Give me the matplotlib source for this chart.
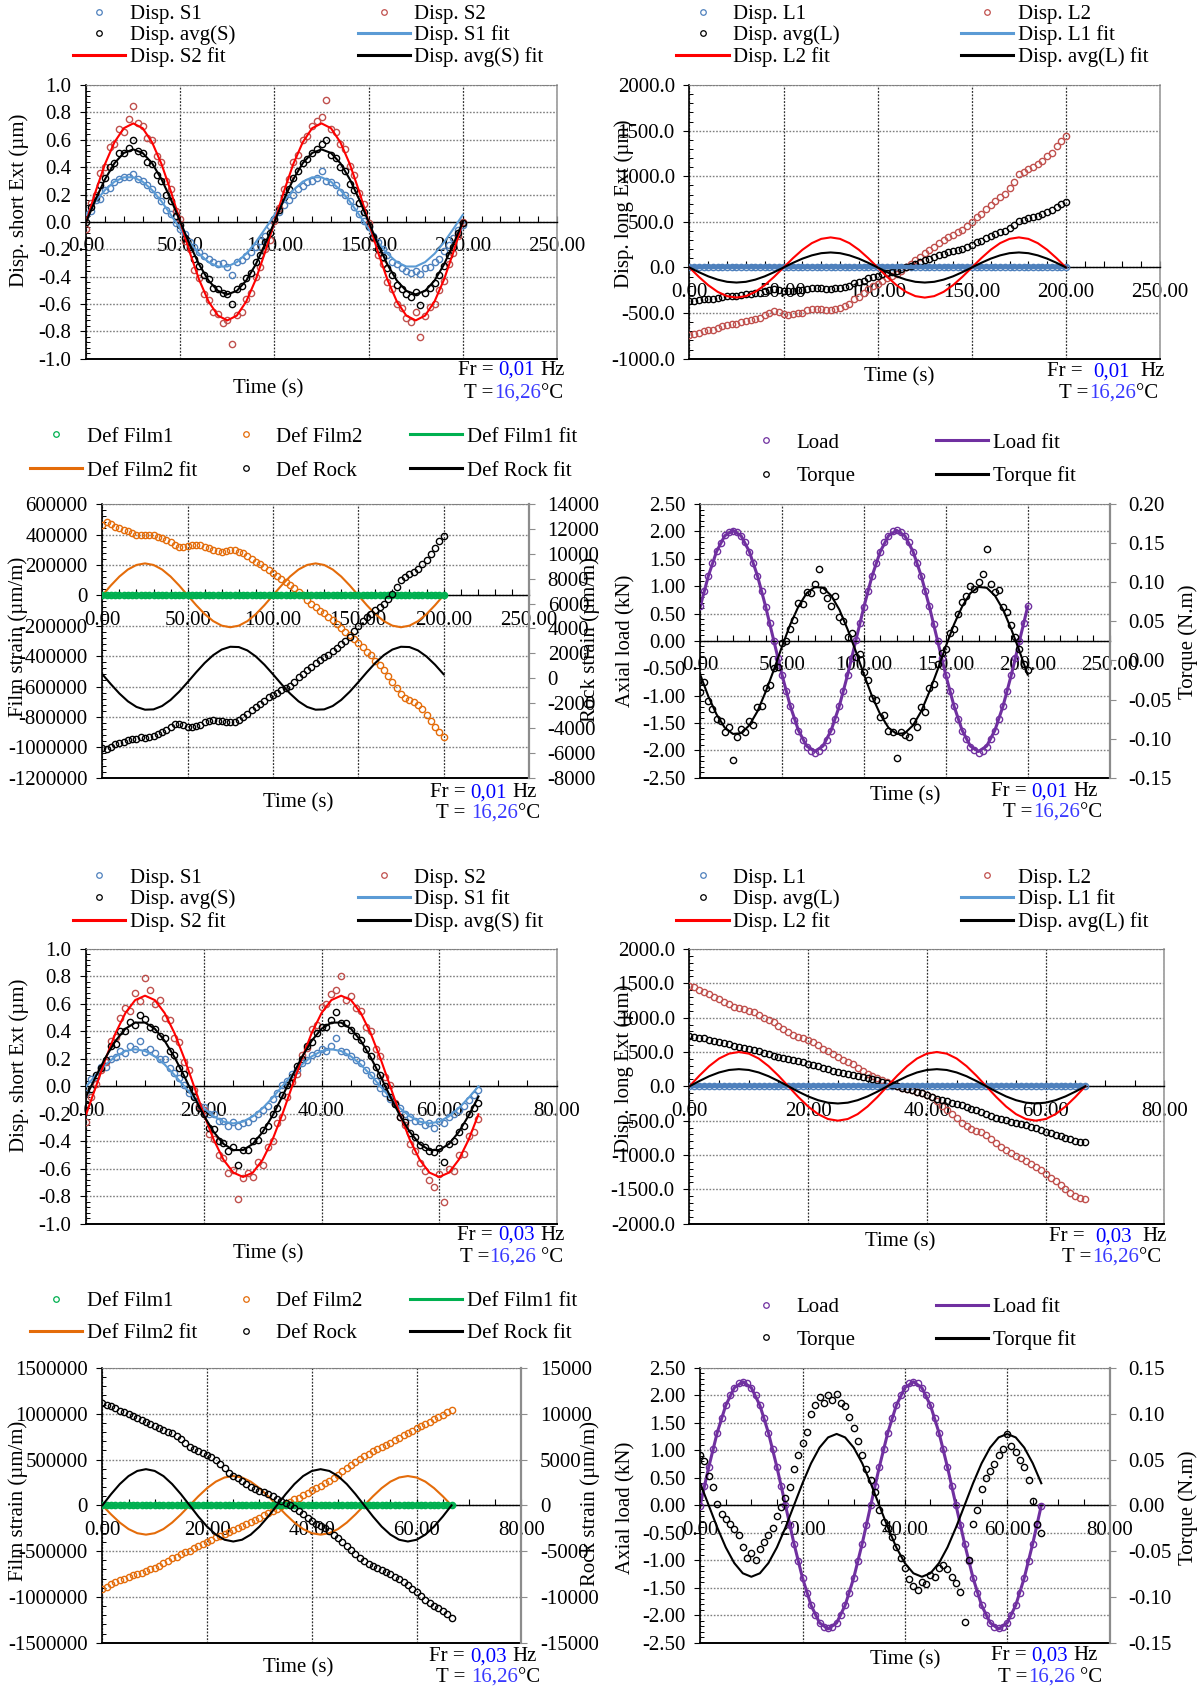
import numpy as np
import matplotlib
matplotlib.use('Agg')
import matplotlib.pyplot as plt
from matplotlib.lines import Line2D
from matplotlib.ticker import MultipleLocator, AutoMinorLocator, FormatStrFormatter

plt.rcParams['font.family'] = ['Liberation Serif', 'DejaVu Serif']
plt.rcParams['font.size'] = 15
plt.rcParams['axes.unicode_minus'] = False

FS = 15

# ---------------- time grids ----------------
t_slow = [0, 2.5, 5, 7.5, 10, 12.5, 15, 17.5, 20, 22.5,
          25, 27.5, 30, 32.5, 35, 37.5, 40, 42.5, 45, 47.5,
          50, 52.5, 55, 57.5, 60, 62.5, 65, 67.5, 70, 72.5,
          75, 77.5, 80, 82.5, 85, 87.5, 90, 92.5, 95, 97.5,
          100, 102.5, 105, 107.5, 110, 112.5, 115, 117.5, 120, 122.5,
          125, 127.5, 130, 132.5, 135, 137.5, 140, 142.5, 145, 147.5,
          150, 152.5, 155, 157.5, 160, 162.5, 165, 167.5, 170, 172.5,
          175, 177.5, 180, 182.5, 185, 187.5, 190, 192.5, 195, 197.5,
          200]
t_slow_fit = [0, 5, 10, 15, 20, 25, 30, 35, 40, 45, 50, 55, 60, 65, 70, 75, 80, 85, 90, 95,
              100, 105, 110, 115, 120, 125, 130, 135, 140, 145, 150, 155, 160, 165, 170, 175,
              180, 185, 190, 195, 200]
t_fast = [0, 0.83, 1.67, 2.5, 3.33, 4.17, 5, 5.83, 6.67, 7.5,
          8.33, 9.17, 10, 10.83, 11.67, 12.5, 13.33, 14.17, 15, 15.83,
          16.67, 17.5, 18.33, 19.17, 20, 20.83, 21.67, 22.5, 23.33, 24.17,
          25, 25.83, 26.67, 27.5, 28.33, 29.17, 30, 30.83, 31.67, 32.5,
          33.33, 34.17, 35, 35.83, 36.67, 37.5, 38.33, 39.17, 40, 40.83,
          41.67, 42.5, 43.33, 44.17, 45, 45.83, 46.67, 47.5, 48.33, 49.17,
          50, 50.83, 51.67, 52.5, 53.33, 54.17, 55, 55.83, 56.67, 57.5,
          58.33, 59.17, 60, 60.83, 61.67, 62.5, 63.33, 64.17, 65, 65.83,
          66.67]
t_fast_fit = [0, 1.67, 3.33, 5, 6.67, 8.33, 10, 11.67, 13.33, 15, 16.67, 18.33, 20, 21.67,
              23.33, 25, 26.67, 28.33, 30, 31.67, 33.33, 35, 36.67, 38.33, 40, 41.67, 43.33,
              45, 46.67, 48.33, 50, 51.67, 53.33, 55, 56.67, 58.33, 60, 61.67, 63.33, 65, 66.67]

# ---------------- 0.01 Hz : short extensometers ----------------
s1_slow = [0.05, 0.08, 0.16, 0.17, 0.23, 0.25, 0.29, 0.31, 0.33, 0.33,
           0.35, 0.31, 0.30, 0.27, 0.24, 0.20, 0.15, 0.09, 0.06, -0.01,
           -0.05, -0.09, -0.15, -0.18, -0.22, -0.25, -0.27, -0.29, -0.31, -0.30,
           -0.33, -0.39, -0.29, -0.28, -0.25, -0.22, -0.18, -0.14, -0.10, -0.03,
           0.02, 0.07, 0.12, 0.16, 0.20, 0.24, 0.26, 0.29, 0.30, 0.32,
           0.37, 0.30, 0.29, 0.27, 0.22, 0.20, 0.15, 0.11, 0.06, 0.01,
           -0.04, -0.10, -0.15, -0.20, -0.24, -0.29, -0.31, -0.34, -0.36, -0.37,
           -0.36, -0.38, -0.34, -0.33, -0.29, -0.27, -0.21, -0.17, -0.12, -0.06,
           -0.02]
s2_slow = [-0.05, 0.14, 0.20, 0.36, 0.40, 0.55, 0.57, 0.68, 0.66, 0.75,
           0.85, 0.72, 0.70, 0.61, 0.60, 0.48, 0.44, 0.30, 0.24, 0.08,
           0.02, -0.14, -0.20, -0.35, -0.41, -0.53, -0.57, -0.66, -0.67, -0.74,
           -0.72, -0.89, -0.68, -0.66, -0.56, -0.52, -0.40, -0.33, -0.20, -0.13,
           0.01, 0.10, 0.24, 0.31, 0.44, 0.49, 0.60, 0.63, 0.70, 0.74,
           0.77, 0.89, 0.68, 0.66, 0.57, 0.53, 0.41, 0.34, 0.21, 0.13,
           -0.01, -0.12, -0.24, -0.31, -0.44, -0.49, -0.60, -0.63, -0.70, -0.73,
           -0.66, -0.84, -0.69, -0.62, -0.60, -0.50, -0.43, -0.31, -0.23, -0.10,
           0.00]
avgs_slow = [0.00, 0.11, 0.18, 0.27, 0.32, 0.40, 0.43, 0.50, 0.50, 0.54,
             0.60, 0.52, 0.50, 0.44, 0.42, 0.34, 0.30, 0.20, 0.15, 0.04,
             -0.02, -0.12, -0.18, -0.27, -0.32, -0.39, -0.42, -0.48, -0.49, -0.52,
             -0.53, -0.60, -0.49, -0.47, -0.41, -0.37, -0.29, -0.24, -0.15, -0.08,
             0.02, 0.09, 0.18, 0.24, 0.32, 0.37, 0.43, 0.46, 0.50, 0.53,
             0.57, 0.60, 0.49, 0.47, 0.40, 0.37, 0.28, 0.23, 0.14, 0.07,
             -0.03, -0.11, -0.20, -0.26, -0.34, -0.39, -0.46, -0.49, -0.53, -0.55,
             -0.51, -0.61, -0.52, -0.48, -0.45, -0.39, -0.32, -0.24, -0.18, -0.08,
             -0.01]
s1_slow_fit = [0.051, 0.150, 0.233, 0.294, 0.326, 0.326, 0.294, 0.233, 0.150, 0.051,
               -0.051, -0.150, -0.233, -0.294, -0.326, -0.326, -0.294, -0.233, -0.150, -0.051,
               0.051, 0.150, 0.233, 0.294, 0.326, 0.326, 0.294, 0.233, 0.150, 0.051,
               -0.051, -0.150, -0.233, -0.294, -0.326, -0.326, -0.294, -0.233, -0.150, -0.051,
               0.051]
s2_slow_fit = [0.0, 0.222, 0.423, 0.582, 0.685, 0.720, 0.685, 0.582, 0.423, 0.222,
               0.0, -0.222, -0.423, -0.582, -0.685, -0.720, -0.685, -0.582, -0.423, -0.222,
               0.0, 0.222, 0.423, 0.582, 0.685, 0.720, 0.685, 0.582, 0.423, 0.222,
               0.0, -0.222, -0.423, -0.582, -0.685, -0.720, -0.685, -0.582, -0.423, -0.222,
               0.0]
avgs_slow_fit = [0.0, 0.164, 0.312, 0.429, 0.504, 0.530, 0.504, 0.429, 0.312, 0.164,
                 0.0, -0.164, -0.312, -0.429, -0.504, -0.530, -0.504, -0.429, -0.312, -0.164,
                 0.0, 0.164, 0.312, 0.429, 0.504, 0.530, 0.504, 0.429, 0.312, 0.164,
                 0.0, -0.164, -0.312, -0.429, -0.504, -0.530, -0.504, -0.429, -0.312, -0.164,
                 0.0]

# ---------------- 0.01 Hz : long extensometers ----------------
l1_slow = [0, 0, 0, 0, 0, 0, 0, 0, 0, 0, 0, 0, 0, 0, 0, 0, 0, 0, 0, 0,
           0, 0, 0, 0, 0, 0, 0, 0, 0, 0, 0, 0, 0, 0, 0, 0, 0, 0, 0, 0,
           0, 0, 0, 0, 0, 0, 0, 0, 0, 0, 0, 0, 0, 0, 0, 0, 0, 0, 0, 0,
           0, 0, 0, 0, 0, 0, 0, 0, 0, 0, 0, 0, 0, 0, 0, 0, 0, 0, 0, 0, 0]
l2_slow = [-740, -730, -715, -700, -690, -680, -660, -640, -630, -615,
           -620, -600, -590, -575, -565, -550, -520, -495, -480, -490,
           -510, -520, -505, -500, -500, -470, -460, -455, -460, -465,
           -465, -460, -440, -425, -400, -350, -320, -285, -240, -205,
           -180, -145, -115, -95, -70, -40, 0, 40, 80, 120,
           155, 190, 225, 265, 300, 330, 360, 385, 415, 460,
           500, 550, 590, 640, 680, 730, 775, 810, 870, 940,
           1030, 1050, 1080, 1105, 1130, 1170, 1220, 1260, 1330, 1390,
           1440]
avgl_slow = [-370, -365, -358, -350, -345, -340, -330, -320, -315, -308,
             -310, -300, -295, -288, -283, -275, -260, -248, -240, -245,
             -255, -260, -253, -250, -250, -235, -230, -228, -230, -233,
             -233, -230, -220, -213, -200, -175, -160, -143, -120, -103,
             -90, -73, -58, -48, -35, -20, 0, 20, 40, 60,
             78, 95, 113, 133, 150, 165, 180, 193, 208, 230,
             250, 275, 295, 320, 340, 365, 388, 405, 435, 470,
             515, 525, 540, 553, 565, 585, 610, 630, 665, 695,
             720]
l1_slow_fit = [0, 0, 0, 0, 0, 0, 0, 0, 0, 0, 0, 0, 0, 0, 0, 0, 0, 0, 0, 0,
               0, 0, 0, 0, 0, 0, 0, 0, 0, 0, 0, 0, 0, 0, 0, 0, 0, 0, 0, 0, 0]
l2_slow_fit = [0, -102, -194, -267, -314, -330, -314, -267, -194, -102,
               0, 102, 194, 267, 314, 330, 314, 267, 194, 102,
               0, -102, -194, -267, -314, -330, -314, -267, -194, -102,
               0, 102, 194, 267, 314, 330, 314, 267, 194, 102,
               0]
avgl_slow_fit = [0, -51, -97, -133, -157, -165, -157, -133, -97, -51,
                 0, 51, 97, 133, 157, 165, 157, 133, 97, 51,
                 0, -51, -97, -133, -157, -165, -157, -133, -97, -51,
                 0, 51, 97, 133, 157, 165, 157, 133, 97, 51,
                 0]

# ---------------- 0.01 Hz : films / rock ----------------
film1_slow = [0, 0, 0, 0, 0, 0, 0, 0, 0, 0, 0, 0, 0, 0, 0, 0, 0, 0, 0, 0,
              0, 0, 0, 0, 0, 0, 0, 0, 0, 0, 0, 0, 0, 0, 0, 0, 0, 0, 0, 0,
              0, 0, 0, 0, 0, 0, 0, 0, 0, 0, 0, 0, 0, 0, 0, 0, 0, 0, 0, 0,
              0, 0, 0, 0, 0, 0, 0, 0, 0, 0, 0, 0, 0, 0, 0, 0, 0, 0, 0, 0, 0]
film2_slow = [465000, 480000, 470000, 452000, 440000, 430000, 420000, 408000, 400000, 395000,
              400000, 398000, 397000, 385000, 375000, 365000, 350000, 331000, 320000, 318000,
              325000, 330000, 331000, 328000, 315000, 309000, 300000, 293000, 288000, 292000,
              298000, 295000, 285000, 276000, 260000, 240000, 222000, 205000, 185000, 167000,
              150000, 128000, 110000, 88000, 68000, 45000, 20000, 2000, -30000, -55000,
              -75000, -100000, -119000, -142000, -165000, -190000, -215000, -240000, -262000, -290000,
              -316000, -340000, -370000, -395000, -430000, -460000, -490000, -530000, -569000, -610000,
              -650000, -675000, -690000, -705000, -720000, -750000, -790000, -830000, -865000, -900000,
              -930000]
rock_slow = [-5600, -5700, -5500, -5300, -5200, -5100, -4950, -4900, -4850, -4750,
             -4800, -4700, -4620, -4450, -4300, -4150, -3900, -3700, -3650, -3800,
             -3950, -3950, -3850, -3750, -3550, -3400, -3380, -3400, -3450, -3480,
             -3520, -3500, -3350, -3150, -2850, -2550, -2340, -2050, -1800, -1530,
             -1350, -1150, -950, -760, -590, -300, 100, 350, 650, 900,
             1200, 1450, 1690, 1900, 2150, 2400, 2750, 3000, 3350, 3800,
             4200, 4600, 4900, 5200, 5500, 5700, 5950, 6350, 6750, 7300,
             7900, 8150, 8350, 8550, 8750, 9150, 9500, 10000, 10500, 11000,
             11400]
film1_slow_fit = [0, 0, 0, 0, 0, 0, 0, 0, 0, 0, 0, 0, 0, 0, 0, 0, 0, 0, 0, 0,
                  0, 0, 0, 0, 0, 0, 0, 0, 0, 0, 0, 0, 0, 0, 0, 0, 0, 0, 0, 0, 0]
film2_slow_fit = [0, 64900, 123500, 169900, 199700, 210000, 199700, 169900, 123500, 64900,
                  0, -64900, -123500, -169900, -199700, -210000, -199700, -169900, -123500, -64900,
                  0, 64900, 123500, 169900, 199700, 210000, 199700, 169900, 123500, 64900,
                  0, -64900, -123500, -169900, -199700, -210000, -199700, -169900, -123500, -64900,
                  0]
rock_slow_fit = [320, -478, -1229, -1859, -2307, -2530, -2505, -2235, -1745, -1086,
                 -320, 478, 1229, 1859, 2307, 2530, 2505, 2235, 1745, 1086,
                 320, -478, -1229, -1859, -2307, -2530, -2505, -2235, -1745, -1086,
                 -320, 478, 1229, 1859, 2307, 2530, 2505, 2235, 1745, 1086,
                 320]

# ---------------- 0.01 Hz : load / torque ----------------
load_slow = [0.63, 0.91, 1.19, 1.43, 1.64, 1.79, 1.93, 1.99, 2.01, 1.99,
             1.92, 1.80, 1.63, 1.43, 1.18, 0.92, 0.62, 0.32, 0.00, -0.32,
             -0.63, -0.92, -1.19, -1.44, -1.64, -1.81, -1.93, -2.01, -2.04, -2.01,
             -1.93, -1.81, -1.64, -1.43, -1.19, -0.91, -0.62, -0.31, 0.01, 0.32,
             0.62, 0.92, 1.19, 1.43, 1.63, 1.80, 1.92, 2.00, 2.02, 1.99,
             1.92, 1.80, 1.63, 1.42, 1.18, 0.92, 0.63, 0.31, -0.01, -0.32,
             -0.62, -0.92, -1.19, -1.43, -1.64, -1.80, -1.93, -2.00, -2.04, -2.01,
             -1.93, -1.80, -1.64, -1.43, -1.19, -0.92, -0.63, -0.31, 0.00, 0.32,
             0.64]
torque_slow = [-0.040, -0.028, -0.052, -0.062, -0.075, -0.078, -0.092, -0.085, -0.127, -0.098,
               -0.088, -0.092, -0.078, -0.082, -0.060, -0.058, -0.035, -0.032, -0.010, -0.008,
               0.022, 0.025, 0.040, 0.052, 0.073, 0.072, 0.088, 0.086, 0.098, 0.117,
               0.090, 0.080, 0.070, 0.082, 0.055, 0.050, 0.030, 0.035, 0.005, 0.008,
               -0.015, -0.025, -0.048, -0.050, -0.072, -0.070, -0.090, -0.092, -0.125, -0.092,
               -0.095, -0.098, -0.078, -0.085, -0.060, -0.066, -0.035, -0.030, -0.005, 0.010,
               0.015, 0.035, 0.040, 0.060, 0.075, 0.082, 0.095, 0.092, 0.100, 0.110,
               0.143, 0.098, 0.088, 0.090, 0.068, 0.062, 0.045, 0.030, 0.015, -0.005,
               -0.012]
load_slow_fit = [0.624, 1.188, 1.634, 1.921, 2.020, 1.921, 1.634, 1.188, 0.624, 0.0,
                 -0.624, -1.188, -1.634, -1.921, -2.020, -1.921, -1.634, -1.188, -0.624, 0.0,
                 0.624, 1.188, 1.634, 1.921, 2.020, 1.921, 1.634, 1.188, 0.624, 0.0,
                 -0.624, -1.188, -1.634, -1.921, -2.020, -1.921, -1.634, -1.188, -0.624, 0.0,
                 0.624]
torque_slow_fit = [-0.018, -0.046, -0.069, -0.086, -0.094, -0.093, -0.083, -0.065, -0.040, -0.012,
                   0.018, 0.046, 0.069, 0.086, 0.094, 0.093, 0.083, 0.065, 0.040, 0.012,
                   -0.018, -0.046, -0.069, -0.086, -0.094, -0.093, -0.083, -0.065, -0.040, -0.012,
                   0.018, 0.046, 0.069, 0.086, 0.094, 0.093, 0.083, 0.065, 0.040, 0.012,
                   -0.018]

# ---------------- 0.03 Hz : short extensometers ----------------
s1_fast = [-0.05, 0.05, 0.07, 0.14, 0.14, 0.20, 0.21, 0.26, 0.24, 0.29,
           0.27, 0.33, 0.25, 0.27, 0.24, 0.20, 0.20, 0.13, 0.10, 0.06,
           0.01, -0.05, -0.07, -0.14, -0.15, -0.20, -0.20, -0.25, -0.25, -0.29,
           -0.26, -0.29, -0.27, -0.26, -0.23, -0.20, -0.17, -0.14, -0.09, -0.05,
           0.01, 0.04, 0.09, 0.12, 0.17, 0.19, 0.23, 0.24, 0.27, 0.26,
           0.29, 0.35, 0.26, 0.25, 0.22, 0.19, 0.17, 0.12, 0.08, 0.04,
           -0.01, -0.05, -0.09, -0.13, -0.16, -0.20, -0.22, -0.25, -0.25, -0.28,
           -0.27, -0.30, -0.25, -0.27, -0.22, -0.20, -0.17, -0.14, -0.10, -0.06,
           -0.03]
s2_fast = [-0.26, -0.08, 0.02, 0.12, 0.18, 0.33, 0.36, 0.50, 0.57, 0.55,
           0.68, 0.62, 0.79, 0.70, 0.60, 0.63, 0.50, 0.48, 0.35, 0.32,
           0.18, 0.12, -0.03, -0.14, -0.17, -0.35, -0.38, -0.50, -0.52, -0.63,
           -0.61, -0.82, -0.67, -0.63, -0.66, -0.55, -0.57, -0.44, -0.40, -0.27,
           -0.22, -0.08, 0.03, 0.09, 0.23, 0.28, 0.42, 0.45, 0.58, 0.60,
           0.67, 0.70, 0.80, 0.63, 0.66, 0.57, 0.55, 0.43, 0.40, 0.27,
           0.22, 0.07, 0.01, -0.12, -0.22, -0.28, -0.42, -0.47, -0.56, -0.62,
           -0.68, -0.73, -0.64, -0.84, -0.60, -0.62, -0.50, -0.49, -0.36, -0.33,
           -0.24]
avgs_fast = [-0.13, -0.02, 0.08, 0.13, 0.19, 0.29, 0.31, 0.40, 0.40, 0.47,
             0.45, 0.52, 0.49, 0.43, 0.42, 0.37, 0.35, 0.26, 0.23, 0.13,
             0.09, -0.02, -0.08, -0.16, -0.20, -0.30, -0.31, -0.40, -0.41, -0.47,
             -0.44, -0.57, -0.46, -0.46, -0.40, -0.39, -0.32, -0.29, -0.20, -0.16,
             -0.06, 0.01, 0.07, 0.15, 0.20, 0.29, 0.32, 0.39, 0.43, 0.43,
             0.48, 0.54, 0.46, 0.46, 0.41, 0.37, 0.34, 0.27, 0.22, 0.14,
             0.08, 0.00, -0.08, -0.13, -0.22, -0.26, -0.34, -0.37, -0.43, -0.44,
             -0.47, -0.48, -0.45, -0.55, -0.42, -0.40, -0.33, -0.29, -0.20, -0.16,
             -0.12]
s1_fast_fit = [0.0, 0.083, 0.159, 0.218, 0.257, 0.270, 0.257, 0.218, 0.159, 0.083,
               0.0, -0.083, -0.159, -0.218, -0.257, -0.270, -0.257, -0.218, -0.159, -0.083,
               0.0, 0.083, 0.159, 0.218, 0.257, 0.270, 0.257, 0.218, 0.159, 0.083,
               0.0, -0.083, -0.159, -0.218, -0.257, -0.270, -0.257, -0.218, -0.159, -0.083,
               0.0]
s2_fast_fit = [-0.204, 0.0, 0.204, 0.388, 0.534, 0.628, 0.660, 0.628, 0.534, 0.388,
               0.204, 0.0, -0.204, -0.388, -0.534, -0.628, -0.660, -0.628, -0.534, -0.388,
               -0.204, 0.0, 0.204, 0.388, 0.534, 0.628, 0.660, 0.628, 0.534, 0.388,
               0.204, 0.0, -0.204, -0.388, -0.534, -0.628, -0.660, -0.628, -0.534, -0.388,
               -0.204]
avgs_fast_fit = [-0.074, 0.074, 0.213, 0.332, 0.419, 0.464, 0.464, 0.419, 0.332, 0.213,
                 0.074, -0.074, -0.213, -0.332, -0.419, -0.464, -0.464, -0.419, -0.332, -0.213,
                 -0.074, 0.074, 0.213, 0.332, 0.419, 0.464, 0.464, 0.419, 0.332, 0.213,
                 0.074, -0.074, -0.213, -0.332, -0.419, -0.464, -0.464, -0.419, -0.332, -0.213,
                 -0.074]

# ---------------- 0.03 Hz : long extensometers ----------------
l1_fast = [0, 0, 0, 0, 0, 0, 0, 0, 0, 0, 0, 0, 0, 0, 0, 0, 0, 0, 0, 0,
           0, 0, 0, 0, 0, 0, 0, 0, 0, 0, 0, 0, 0, 0, 0, 0, 0, 0, 0, 0,
           0, 0, 0, 0, 0, 0, 0, 0, 0, 0, 0, 0, 0, 0, 0, 0, 0, 0, 0, 0,
           0, 0, 0, 0, 0, 0, 0, 0, 0, 0, 0, 0, 0, 0, 0, 0, 0, 0, 0, 0, 0]
l2_fast = [1454, 1440, 1410, 1380, 1340, 1307, 1270, 1235, 1200, 1160,
           1140, 1120, 1100, 1080, 1040, 1000, 960, 930, 880, 840,
           790, 750, 720, 700, 680, 640, 600, 550, 510, 470,
           430, 390, 356, 320, 270, 220, 185, 150, 115, 85,
           60, 35, 10, -20, -40, -60, -80, -100, -120, -160,
           -220, -290, -340, -400, -460, -530, -580, -620, -650, -670,
           -710, -770, -830, -890, -930, -970, -1010, -1045, -1090, -1135,
           -1180, -1220, -1280, -1330, -1380, -1440, -1490, -1550, -1590, -1625,
           -1640]
avgl_fast = [740, 720, 710, 700, 680, 665, 650, 630, 610, 590,
             575, 560, 550, 535, 510, 490, 465, 440, 425, 410,
             400, 385, 370, 350, 325, 305, 290, 270, 250, 230,
             210, 190, 175, 160, 145, 135, 125, 105, 85, 65,
             50, 25, 5, -20, -40, -60, -80, -100, -120, -150,
             -180, -200, -220, -245, -260, -275, -300, -325, -350, -375,
             -400, -425, -455, -475, -495, -515, -530, -550, -570, -590,
             -610, -630, -660, -685, -710, -730, -755, -770, -790, -805,
             -815]
l1_fast_fit = [0, 0, 0, 0, 0, 0, 0, 0, 0, 0, 0, 0, 0, 0, 0, 0, 0, 0, 0, 0,
               0, 0, 0, 0, 0, 0, 0, 0, 0, 0, 0, 0, 0, 0, 0, 0, 0, 0, 0, 0, 0]
l2_fast_fit = [0, 155, 294, 405, 476, 500, 476, 405, 294, 155,
               0, -155, -294, -405, -476, -500, -476, -405, -294, -155,
               0, 155, 294, 405, 476, 500, 476, 405, 294, 155,
               0, -155, -294, -405, -476, -500, -476, -405, -294, -155,
               0]
avgl_fast_fit = [0, 77, 147, 202, 238, 250, 238, 202, 147, 77,
                 0, -77, -147, -202, -238, -250, -238, -202, -147, -77,
                 0, 77, 147, 202, 238, 250, 238, 202, 147, 77,
                 0, -77, -147, -202, -238, -250, -238, -202, -147, -77,
                 0]

# ---------------- 0.03 Hz : films / rock ----------------
film1_fast = [0, 0, 0, 0, 0, 0, 0, 0, 0, 0, 0, 0, 0, 0, 0, 0, 0, 0, 0, 0,
              0, 0, 0, 0, 0, 0, 0, 0, 0, 0, 0, 0, 0, 0, 0, 0, 0, 0, 0, 0,
              0, 0, 0, 0, 0, 0, 0, 0, 0, 0, 0, 0, 0, 0, 0, 0, 0, 0, 0, 0,
              0, 0, 0, 0, 0, 0, 0, 0, 0, 0, 0, 0, 0, 0, 0, 0, 0, 0, 0, 0, 0]
film2_fast = [-910000, -890000, -860000, -835000, -815000, -800000, -785000, -765000, -750000, -735000,
              -720000, -700000, -685000, -660000, -630000, -605000, -580000, -560000, -535000, -515000,
              -495000, -470000, -445000, -420000, -400000, -375000, -350000, -330000, -310000, -290000,
              -270000, -250000, -230000, -205000, -185000, -160000, -135000, -110000, -85000, -60000,
              -35000, -10000, 15000, 40000, 65000, 85000, 110000, 140000, 165000, 190000,
              215000, 240000, 270000, 300000, 335000, 370000, 405000, 440000, 470000, 505000,
              540000, 565000, 590000, 615000, 640000, 660000, 685000, 710000, 735000, 765000,
              790000, 815000, 840000, 865000, 890000, 915000, 940000, 965000, 990000, 1015000,
              1040000]
rock_fast = [11200, 11000, 10800, 10600, 10350, 10150, 9950, 9750, 9550, 9300,
             9100, 8900, 8700, 8450, 8200, 8050, 7850, 7550, 7200, 6850,
             6400, 6100, 5900, 5700, 5500, 5250, 4900, 4500, 4050, 3550,
             3200, 2950, 2650, 2350, 2050, 1800, 1600, 1450, 1250, 1000,
             700, 450, 250, 0, -250, -600, -1000, -1400, -1700, -2000,
             -2250, -2500, -2850, -3200, -3600, -4000, -4450, -4900, -5350, -5750,
             -6100, -6400, -6650, -6850, -7050, -7300, -7550, -7800, -8050, -8350,
             -8700, -9100, -9500, -9900, -10300, -10650, -10950, -11250, -11550, -11900,
             -12300]
film1_fast_fit = [0, 0, 0, 0, 0, 0, 0, 0, 0, 0, 0, 0, 0, 0, 0, 0, 0, 0, 0, 0,
                  0, 0, 0, 0, 0, 0, 0, 0, 0, 0, 0, 0, 0, 0, 0, 0, 0, 0, 0, 0, 0]
film2_fast_fit = [0, -98900, -188100, -258900, -304300, -320000, -304300, -258900, -188100, -98900,
                  0, 98900, 188100, 258900, 304300, 320000, 304300, 258900, 188100, 98900,
                  0, -98900, -188100, -258900, -304300, -320000, -304300, -258900, -188100, -98900,
                  0, 98900, 188100, 258900, 304300, 320000, 304300, 258900, 188100, 98900,
                  0]
rock_fast_fit = [0, 1221, 2322, 3196, 3757, 3950, 3757, 3196, 2322, 1221,
                 0, -1221, -2322, -3196, -3757, -3950, -3757, -3196, -2322, -1221,
                 0, 1221, 2322, 3196, 3757, 3950, 3757, 3196, 2322, 1221,
                 0, -1221, -2322, -3196, -3757, -3950, -3757, -3196, -2322, -1221,
                 0]

# ---------------- 0.03 Hz : load / torque ----------------
load_fast = [-0.02, 0.35, 0.70, 1.02, 1.32, 1.59, 1.82, 2.00, 2.14, 2.22,
             2.25, 2.22, 2.14, 2.00, 1.82, 1.59, 1.32, 1.02, 0.70, 0.35,
             0.00, -0.35, -0.70, -1.02, -1.32, -1.59, -1.82, -2.00, -2.14, -2.22,
             -2.24, -2.22, -2.14, -2.00, -1.82, -1.59, -1.32, -1.02, -0.70, -0.35,
             0.00, 0.35, 0.69, 1.02, 1.32, 1.59, 1.82, 2.01, 2.14, 2.22,
             2.25, 2.22, 2.14, 2.00, 1.82, 1.59, 1.32, 1.02, 0.69, 0.35,
             0.00, -0.35, -0.70, -1.02, -1.32, -1.59, -1.82, -2.00, -2.14, -2.22,
             -2.24, -2.22, -2.14, -2.00, -1.82, -1.59, -1.32, -1.02, -0.70, -0.35,
             -0.02]
torque_fast = [0.055, 0.048, 0.032, 0.020, 0.002, -0.010, -0.015, -0.020, -0.026, -0.032,
               -0.045, -0.058, -0.052, -0.060, -0.048, -0.040, -0.032, -0.025, -0.012, -0.002,
               0.008, 0.020, 0.040, 0.055, 0.068, 0.080, 0.100, 0.110, 0.118, 0.112,
               0.120, 0.115, 0.122, 0.112, 0.108, 0.097, 0.085, 0.070, 0.055, 0.040,
               0.028, 0.015, -0.005, -0.018, -0.025, -0.035, -0.045, -0.058, -0.068, -0.080,
               -0.088, -0.092, -0.084, -0.086, -0.076, -0.078, -0.068, -0.065, -0.070, -0.078,
               -0.085, -0.095, -0.127, -0.060, -0.020, -0.005, 0.018, 0.030, 0.038, 0.045,
               0.055, 0.062, 0.078, 0.065, 0.058, 0.050, 0.042, 0.028, 0.005, -0.020,
               -0.030]
load_fast_fit = [0.0, 0.695, 1.323, 1.820, 2.140, 2.250, 2.140, 1.820, 1.323, 0.695,
                 0.0, -0.695, -1.323, -1.820, -2.140, -2.250, -2.140, -1.820, -1.323, -0.695,
                 0.0, 0.695, 1.323, 1.820, 2.140, 2.250, 2.140, 1.820, 1.323, 0.695,
                 0.0, -0.695, -1.323, -1.820, -2.140, -2.250, -2.140, -1.820, -1.323, -0.695,
                 0.0]
torque_fast_fit = [0.0241, 0.0, -0.0241, -0.0459, -0.0631, -0.0742, -0.0780, -0.0742, -0.0631, -0.0459,
                   -0.0241, 0.0, 0.0241, 0.0459, 0.0631, 0.0742, 0.0780, 0.0742, 0.0631, 0.0459,
                   0.0241, 0.0, -0.0241, -0.0459, -0.0631, -0.0742, -0.0780, -0.0742, -0.0631, -0.0459,
                   -0.0241, 0.0, 0.0241, 0.0459, 0.0631, 0.0742, 0.0780, 0.0742, 0.0631, 0.0459,
                   0.0241]

# ---------------- colours ----------------
BLUE = '#4F81BD'
BLUE_FIT = '#5B9BD5'
RED = '#C0504D'
RED_FIT = '#FF0000'
GREEN = '#00B050'
ORANGE = '#E46C0A'
PURPLE = '#7030A0'
TBLUE1 = '#0000FF'
TBLUE2 = '#3A3AFF'

fig = plt.figure(figsize=(12, 16.89), dpi=100)
fig.patch.set_facecolor('white')
W, H = 1114.0, 1568.0


def fx(x):
    return x / W


def fy(y):
    return 1 - y / H


def add_ax(l, t, r, b):
    return fig.add_axes([fx(l), fy(b), fx(r) - fx(l), (b - t) / H])


def style(ax, xmax, xmaj, xminor, ylim, ymaj, yfmt, twin=False):
    ax.set_xlim(0, xmax)
    ax.set_ylim(*ylim)
    ax.xaxis.set_major_locator(MultipleLocator(xmaj))
    ax.xaxis.set_minor_locator(MultipleLocator(xminor))
    ax.xaxis.set_major_formatter(FormatStrFormatter('%.2f'))
    ax.yaxis.set_major_locator(MultipleLocator(ymaj))
    ax.yaxis.set_minor_locator(AutoMinorLocator(5))
    ax.yaxis.set_major_formatter(FormatStrFormatter(yfmt))
    ax.spines['bottom'].set_position(('data', 0))
    ax.spines['bottom'].set_linewidth(1.0)
    ax.spines['left'].set_linewidth(1.2)
    ax.spines['top'].set_color('#808080')
    ax.spines['top'].set_linestyle((0, (1.2, 1.2)))
    if twin:
        ax.spines['right'].set_visible(False)
    else:
        ax.spines['right'].set_color('#9a9a9a')
        ax.spines['right'].set_linewidth(1.2)
    ax.axhline(ylim[0], color='black', lw=1.4, zorder=6, clip_on=False)
    ax.set_axisbelow(True)
    ax.grid(axis='y', which='major', color='#7f7f7f', ls=(0, (1.2, 1.2)), lw=1.0)
    ax.grid(axis='x', which='major', color='#303030', ls=(0, (1.5, 1.2)), lw=0.9)
    ax.tick_params(axis='x', which='both', direction='in', length=4, width=0.8,
                   pad=11, labelsize=FS, top=False)
    ax.tick_params(axis='y', which='major', direction='out', length=4.5, width=0.8,
                   pad=6, labelsize=FS, right=False)
    ax.tick_params(axis='y', which='minor', direction='in', length=3, width=0.7, right=False)


def style_right(ax2, ylim, ymaj, fmt):
    ax2.set_ylim(*ylim)
    ax2.yaxis.set_major_locator(MultipleLocator(ymaj))
    ax2.yaxis.set_major_formatter(FormatStrFormatter(fmt))
    for s in ['top', 'left', 'bottom']:
        ax2.spines[s].set_visible(False)
    ax2.spines['right'].set_color('#8c8c8c')
    ax2.spines['right'].set_linewidth(1.6)
    ax2.tick_params(axis='y', which='major', direction='out', length=4.5, width=0.8,
                    color='#8c8c8c', pad=9, labelsize=FS)


def pts(ax, t, y, c, z=3):
    assert len(t) == len(y), (len(t), len(y))
    ax.plot(t, y, ls='none', marker='o', ms=4.5, mfc='none', mec=c, mew=1.0, zorder=z)


def fitl(ax, t, y, c, lw=1.5, z=4):
    assert len(t) == len(y), (len(t), len(y))
    ax.plot(t, y, color=c, lw=lw, zorder=z)


def mk(c):
    return Line2D([], [], ls='none', marker='o', ms=4, mfc='none', mec=c, mew=0.9)


def ln(c):
    return Line2D([], [], color=c, lw=2.2)


def leg(handle, label, x, y):
    fig.legend([handle], [label], loc='center left', bbox_to_anchor=(fx(x), fy(y)),
               bbox_transform=fig.transFigure, frameon=False, fontsize=FS,
               handlelength=2.5, handletextpad=0.22, borderpad=0, borderaxespad=0,
               numpoints=1)


def label_text(x, y, s, rot=0):
    fig.text(fx(x), fy(y), s, rotation=rot, ha='center', va='center', fontsize=FS)


renderer = fig.canvas.get_renderer()
FSPX = FS * 100 / 72.0
FIGW = fig.bbox.width


def rich(xr, y, parts):
    objs = []
    total = 0.0
    for s, c, gap in parts:
        t = fig.text(0, fy(y), s, color=c, fontsize=FS, va='center', ha='left')
        w = t.get_window_extent(renderer=renderer).width
        objs.append((t, w, gap))
        total += w + gap * FSPX
    x = fx(xr) * FIGW - total
    for t, w, gap in objs:
        x += gap * FSPX
        t.set_x(x / FIGW)
        x += w


# ====================== Panel 1 ======================
ax = add_ax(80, 79, 517, 333)
style(ax, 250, 50, 10, (-1.0, 1.0), 0.2, '%.1f')
pts(ax, t_slow, s1_slow, BLUE)
pts(ax, t_slow, s2_slow, RED)
pts(ax, t_slow, avgs_slow, 'black')
fitl(ax, t_slow_fit, s1_slow_fit, BLUE_FIT)
fitl(ax, t_slow_fit, s2_slow_fit, RED_FIT)
fitl(ax, t_slow_fit, avgs_slow_fit, 'black')
leg(mk(BLUE), 'Disp. S1', 68, 13)
leg(mk(RED), 'Disp. S2', 332, 13)
leg(mk('black'), 'Disp. avg(S)', 68, 33)
leg(ln(BLUE_FIT), 'Disp. S1 fit', 332, 33)
leg(ln(RED_FIT), 'Disp. S2 fit', 68, 53)
leg(ln('black'), 'Disp. avg(S) fit', 332, 53)
label_text(18, 186, 'Disp. short Ext (µm)', 90)
label_text(249, 361, 'Time (s)')
rich(524, 344, [('Fr =', 'black', 0), ('0,01', TBLUE1, 0.25), ('Hz', 'black', 0.25)])
rich(523, 365, [('T =', 'black', 0), ('16,26', TBLUE2, 0.05), ('°C', 'black', 0)])

# ====================== Panel 2 ======================
ax = add_ax(640, 79, 1077, 333)
style(ax, 250, 50, 10, (-1000, 2000), 500, '%.1f')
pts(ax, t_slow, l1_slow, BLUE)
pts(ax, t_slow, l2_slow, RED)
pts(ax, t_slow, avgl_slow, 'black')
fitl(ax, t_slow_fit, l1_slow_fit, BLUE, lw=3.2)
fitl(ax, t_slow_fit, l2_slow_fit, RED_FIT)
fitl(ax, t_slow_fit, avgl_slow_fit, 'black')
leg(mk(BLUE), 'Disp. L1', 628, 13)
leg(mk(RED), 'Disp. L2', 892, 13)
leg(mk('black'), 'Disp. avg(L)', 628, 33)
leg(ln(BLUE_FIT), 'Disp. L1 fit', 892, 33)
leg(ln(RED_FIT), 'Disp. L2 fit', 628, 53)
leg(ln('black'), 'Disp. avg(L) fit', 892, 53)
label_text(579, 189, 'Disp. long Ext (µm)', 90)
label_text(835, 350, 'Time (s)')
rich(1081, 345, [('Fr =', 'black', 0), ('0,01', TBLUE1, 0.5), ('Hz', 'black', 0.5)])
rich(1075, 365, [('T =', 'black', 0), ('16,26', TBLUE2, 0.05), ('°C', 'black', 0)])

# ====================== Panel 3 ======================
ax = add_ax(95, 468, 491, 722)
style(ax, 250, 50, 10, (-1200000, 600000), 200000, '%d', twin=True)
ax2 = ax.twinx()
style_right(ax2, (-8000, 14000), 2000, '%d')
pts(ax, t_slow, film2_slow, ORANGE)
fitl(ax, t_slow_fit, film2_slow_fit, ORANGE)
pts(ax, t_slow, film1_slow, GREEN, z=5)
fitl(ax, t_slow_fit, film1_slow_fit, GREEN, lw=3.5, z=5)
pts(ax2, t_slow, rock_slow, 'black')
fitl(ax2, t_slow_fit, rock_slow_fit, 'black')
leg(mk(GREEN), 'Def Film1', 28, 405.5)
leg(mk(ORANGE), 'Def Film2', 204, 405.5)
leg(ln(GREEN), 'Def Film1 fit', 381, 405.5)
leg(ln(ORANGE), 'Def Film2 fit', 28, 437)
leg(mk('black'), 'Def Rock', 204, 437)
leg(ln('black'), 'Def Rock fit', 381, 437)
label_text(17, 591, 'Film strain (µm/m)', 90)
label_text(548, 594, 'Rock strain (µm/m)', 90)
label_text(277, 745, 'Time (s)')
rich(498, 736, [('Fr =', 'black', 0), ('0,01', TBLUE1, 0.25), ('Hz', 'black', 0.25)])
rich(501, 755, [('T =', 'black', 0), ('16,26', TBLUE2, 0.25), ('°C', 'black', 0)])

# ====================== Panel 4 ======================
ax = add_ax(650, 468, 1030, 722)
style(ax, 250, 50, 10, (-2.5, 2.5), 0.5, '%.2f', twin=True)
ax2 = ax.twinx()
style_right(ax2, (-0.15, 0.20), 0.05, '%.2f')
fitl(ax, t_slow_fit, load_slow_fit, PURPLE, lw=2.2, z=2)
pts(ax, t_slow, load_slow, PURPLE)
pts(ax2, t_slow, torque_slow, 'black')
fitl(ax2, t_slow_fit, torque_slow_fit, 'black')
leg(mk(PURPLE), 'Load', 687, 411)
leg(ln(PURPLE), 'Load fit', 869, 411)
leg(mk('black'), 'Torque', 687, 442)
leg(ln('black'), 'Torque fit', 869, 442)
label_text(581, 595, 'Axial load (kN)', 90)
label_text(1103, 596, 'Torque (N.m)', 90)
label_text(840, 739, 'Time (s)')
rich(1019, 735, [('Fr =', 'black', 0), ('0,01', TBLUE1, 0.25), ('Hz', 'black', 0.25)])
rich(1023, 754, [('T =', 'black', 0), ('16,26', TBLUE2, 0.05), ('°C', 'black', 0)])

# ====================== Panel 5 ======================
ax = add_ax(80, 881, 517, 1136)
style(ax, 80, 20, 5, (-1.0, 1.0), 0.2, '%.1f')
pts(ax, t_fast, s1_fast, BLUE)
pts(ax, t_fast, s2_fast, RED)
pts(ax, t_fast, avgs_fast, 'black')
fitl(ax, t_fast_fit, s1_fast_fit, BLUE_FIT)
fitl(ax, t_fast_fit, s2_fast_fit, RED_FIT)
fitl(ax, t_fast_fit, avgs_fast_fit, 'black')
leg(mk(BLUE), 'Disp. S1', 68, 815)
leg(mk(RED), 'Disp. S2', 332, 815)
leg(mk('black'), 'Disp. avg(S)', 68, 835)
leg(ln(BLUE_FIT), 'Disp. S1 fit', 332, 835)
leg(ln(RED_FIT), 'Disp. S2 fit', 68, 856)
leg(ln('black'), 'Disp. avg(S) fit', 332, 856)
label_text(18, 989, 'Disp. short Ext (µm)', 90)
label_text(249, 1164, 'Time (s)')
rich(524, 1147, [('Fr =', 'black', 0), ('0,03', TBLUE1, 0.25), ('Hz', 'black', 0.25)])
rich(523, 1167, [('T =', 'black', 0), ('16,26', TBLUE2, 0.0), ('°C', 'black', 0.25)])

# ====================== Panel 6 ======================
ax = add_ax(640, 881, 1081, 1136)
style(ax, 80, 20, 5, (-2000, 2000), 500, '%.1f')
pts(ax, t_fast, l1_fast, BLUE)
pts(ax, t_fast, l2_fast, RED)
pts(ax, t_fast, avgl_fast, 'black')
fitl(ax, t_fast_fit, l1_fast_fit, BLUE, lw=3.2)
fitl(ax, t_fast_fit, l2_fast_fit, RED_FIT)
fitl(ax, t_fast_fit, avgl_fast_fit, 'black')
leg(mk(BLUE), 'Disp. L1', 628, 815)
leg(mk(RED), 'Disp. L2', 892, 815)
leg(mk('black'), 'Disp. avg(L)', 628, 835)
leg(ln(BLUE_FIT), 'Disp. L1 fit', 892, 835)
leg(ln(RED_FIT), 'Disp. L2 fit', 628, 856)
leg(ln('black'), 'Disp. avg(L) fit', 892, 856)
label_text(579, 992, 'Disp. long Ext (µm)', 90)
label_text(836, 1153, 'Time (s)')
rich(1083, 1148, [('Fr =', 'black', 0), ('0,03', TBLUE1, 0.5), ('Hz', 'black', 0.5)])
rich(1078, 1167, [('T =', 'black', 0), ('16,26', TBLUE2, 0.05), ('°C', 'black', 0)])

# ====================== Panel 7 ======================
ax = add_ax(95, 1270, 484, 1525)
style(ax, 80, 20, 5, (-1500000, 1500000), 500000, '%d', twin=True)
ax2 = ax.twinx()
style_right(ax2, (-15000, 15000), 5000, '%d')
pts(ax, t_fast, film2_fast, ORANGE)
fitl(ax, t_fast_fit, film2_fast_fit, ORANGE)
pts(ax, t_fast, film1_fast, GREEN, z=5)
fitl(ax, t_fast_fit, film1_fast_fit, GREEN, lw=3.5, z=5)
pts(ax2, t_fast, rock_fast, 'black')
fitl(ax2, t_fast_fit, rock_fast_fit, 'black')
leg(mk(GREEN), 'Def Film1', 28, 1208)
leg(mk(ORANGE), 'Def Film2', 204, 1208)
leg(ln(GREEN), 'Def Film1 fit', 381, 1208)
leg(ln(ORANGE), 'Def Film2 fit', 28, 1238)
leg(mk('black'), 'Def Rock', 204, 1238)
leg(ln('black'), 'Def Rock fit', 381, 1238)
label_text(17, 1393, 'Film strain (µm/m)', 90)
label_text(548, 1396, 'Rock strain (µm/m)', 90)
label_text(277, 1548, 'Time (s)')
rich(498, 1538, [('Fr =', 'black', 0), ('0,03', TBLUE1, 0.25), ('Hz', 'black', 0.25)])
rich(501, 1557, [('T =', 'black', 0), ('16,26', TBLUE2, 0.25), ('°C', 'black', 0)])

# ====================== Panel 8 ======================
ax = add_ax(650, 1270, 1030, 1525)
style(ax, 80, 20, 5, (-2.5, 2.5), 0.5, '%.2f', twin=True)
ax2 = ax.twinx()
style_right(ax2, (-0.15, 0.15), 0.05, '%.2f')
fitl(ax, t_fast_fit, load_fast_fit, PURPLE, lw=2.2, z=2)
pts(ax, t_fast, load_fast, PURPLE)
pts(ax2, t_fast, torque_fast, 'black')
fitl(ax2, t_fast_fit, torque_fast_fit, 'black')
leg(mk(PURPLE), 'Load', 687, 1214)
leg(ln(PURPLE), 'Load fit', 869, 1214)
leg(mk('black'), 'Torque', 687, 1244)
leg(ln('black'), 'Torque fit', 869, 1244)
label_text(581, 1400, 'Axial load (kN)', 90)
label_text(1103, 1400, 'Torque (N.m)', 90)
label_text(840, 1541, 'Time (s)')
rich(1019, 1537, [('Fr =', 'black', 0), ('0,03', TBLUE1, 0.25), ('Hz', 'black', 0.25)])
rich(1023, 1557, [('T =', 'black', 0), ('16,26', TBLUE2, 0.0), ('°C', 'black', 0.25)])

fig.savefig('out.png', dpi=100, facecolor='white')
